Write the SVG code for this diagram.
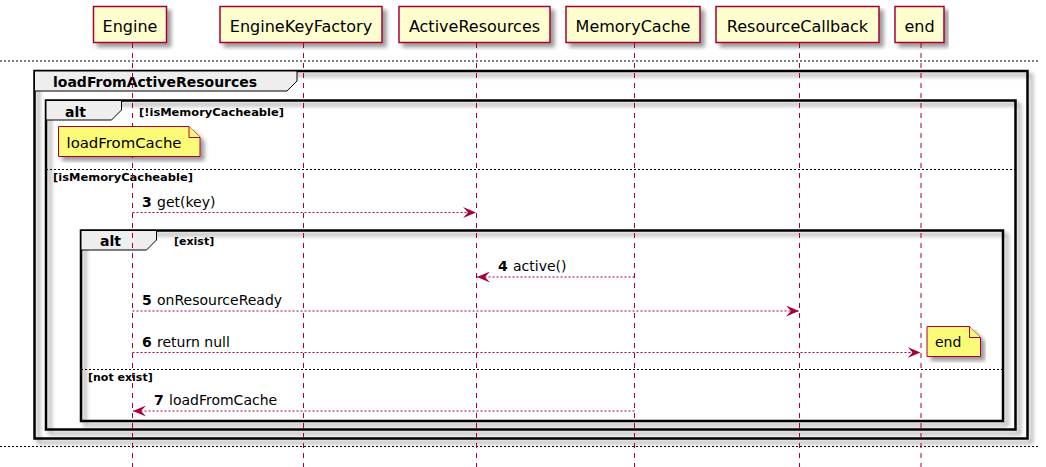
<svg xmlns="http://www.w3.org/2000/svg" width="1046" height="467" viewBox="0 0 1046 467">
<defs>
<filter id="sh" x="-5%" y="-5%" width="115%" height="125%">
<feGaussianBlur in="SourceGraphic" stdDeviation="2" result="b"/>
<feColorMatrix in="b" type="matrix" values="0 0 0 0 0 0 0 0 0 0 0 0 0 0 0 0 0 0 .4 0" result="b2"/>
<feOffset in="b2" dx="4" dy="4" result="b3"/>
<feBlend in="SourceGraphic" in2="b3" mode="normal"/>
</filter>
<marker id="ah" viewBox="0 0 13 11" refX="13" refY="5.5" markerWidth="13" markerHeight="11" markerUnits="userSpaceOnUse" orient="auto">
<polygon points="0,0 13,5.5 0,11 5,5.5" fill="#A80036"/>
</marker>
</defs>
<style>
text{font-family:"DejaVu Sans",sans-serif;fill:#000}
.pt{font-size:16px;text-anchor:middle}
.msg{font-size:14px}
.num{font-size:14px;font-weight:bold}
.tab{font-size:14px;font-weight:bold}
.grd{font-size:11px;font-weight:bold}
.note{font-size:14px}
.box{fill:#FEFECE;stroke:#A80036;stroke-width:1.5}
.life{stroke:#A80036;stroke-width:1;stroke-dasharray:5,5;fill:none}
.frame{fill:none;stroke:#000;stroke-width:2.5}
.tabbg{fill:#EEEEEE;stroke:#000;stroke-width:1}
.sep{stroke:#000;stroke-width:1;stroke-dasharray:2,2;fill:none}
.arr{stroke:#A80036;stroke-width:1;stroke-dasharray:2,2;fill:none;marker-end:url(#ah)}
.nt{fill:#FBFB77;stroke:#A80036;stroke-width:1}
</style>
<rect width="1046" height="467" fill="#fff"/>

<g id="separators">
<line class="sep" x1="0" y1="61" x2="1040" y2="61"/>
<line class="sep" x1="0" y1="446.5" x2="1040" y2="446.5"/>
</g>

<g id="group-loadFromActiveResources">
<rect class="frame" x="34.5" y="71" width="993" height="367.5" filter="url(#sh)"/>
<polygon class="tabbg" points="34.5,71 297,71 297,81 287,91 34.5,91"/>
<text class="tab" x="53" y="87">loadFromActiveResources</text>
</g>

<g id="group-alt1">
<rect class="frame" x="46" y="100.5" width="969.5" height="329" filter="url(#sh)"/>
<polygon class="tabbg" points="46,100.5 121.5,100.5 121.5,110 111.5,120 46,120"/>
<text class="tab" x="65" y="116.5">alt</text>
<text class="grd" x="139" y="116" textLength="145" lengthAdjust="spacingAndGlyphs">[!isMemoryCacheable]</text>
<line class="sep" x1="46" y1="169.5" x2="1015.5" y2="169.5"/>
<text class="grd" x="53" y="181" textLength="140" lengthAdjust="spacingAndGlyphs">[isMemoryCacheable]</text>
</g>

<g id="group-alt2">
<rect class="frame" x="81" y="230.5" width="922" height="190.5" filter="url(#sh)"/>
<polygon class="tabbg" points="81,230.5 156.5,230.5 156.5,240 146.5,250 81,250"/>
<text class="tab" x="100" y="246">alt</text>
<text class="grd" x="174" y="245">[exist]</text>
<line class="sep" x1="81" y1="369.5" x2="1003" y2="369.5"/>
<text class="grd" x="88" y="381">[not exist]</text>
</g>

<g id="Engine">
<rect class="box" x="93.5" y="6.5" width="73" height="36" filter="url(#sh)"/>
<text class="pt" x="130" y="31.5">Engine</text>
<line class="life" x1="132.5" y1="43" x2="132.5" y2="467"/>
</g>
<g id="EngineKeyFactory">
<rect class="box" x="220" y="6.5" width="162" height="36" filter="url(#sh)"/>
<text class="pt" x="301" y="31.5">EngineKeyFactory</text>
<line class="life" x1="303.5" y1="43" x2="303.5" y2="467"/>
</g>
<g id="ActiveResources">
<rect class="box" x="399" y="6.5" width="151" height="36" filter="url(#sh)"/>
<text class="pt" x="474.5" y="31.5">ActiveResources</text>
<line class="life" x1="476.5" y1="43" x2="476.5" y2="467"/>
</g>
<g id="MemoryCache">
<rect class="box" x="566" y="6.5" width="134" height="36" filter="url(#sh)"/>
<text class="pt" x="633" y="31.5">MemoryCache</text>
<line class="life" x1="634.5" y1="43" x2="634.5" y2="467"/>
</g>
<g id="ResourceCallback">
<rect class="box" x="716" y="6.5" width="163" height="36" filter="url(#sh)"/>
<text class="pt" x="797.5" y="31.5">ResourceCallback</text>
<line class="life" x1="799.5" y1="43" x2="799.5" y2="467"/>
</g>
<g id="end">
<rect class="box" x="895" y="6.5" width="49" height="36" filter="url(#sh)"/>
<text class="pt" x="919.5" y="31.5">end</text>
<line class="life" x1="921" y1="43" x2="921" y2="467"/>
</g>

<g id="connectors">
<line class="arr" x1="132.5" y1="212.5" x2="476" y2="212.5"/>
<text class="num" x="142" y="206.5">3</text><text class="msg" x="157" y="206.5">get(key)</text>
<line class="arr" x1="634.5" y1="277" x2="477" y2="277"/>
<text class="num" x="498" y="271">4</text><text class="msg" x="513" y="271">active()</text>
<line class="arr" x1="132.5" y1="311" x2="799" y2="311"/>
<text class="num" x="142" y="305">5</text><text class="msg" x="157" y="305">onResourceReady</text>
<line class="arr" x1="132.5" y1="352.5" x2="920.5" y2="352.5"/>
<text class="num" x="142" y="346.5">6</text><text class="msg" x="157" y="346.5">return null</text>
<line class="arr" x1="634.5" y1="411" x2="133" y2="411"/>
<text class="num" x="154" y="405">7</text><text class="msg" x="169" y="405">loadFromCache</text>
</g>

<g id="note-loadFromCache">
<path class="nt" d="M58.5,126.5 L189,126.5 L200,137.5 L200,156.5 L58.5,156.5 Z" filter="url(#sh)"/>
<path class="nt" d="M189,126.5 L189,137.5 L200,137.5"/>
<text class="note" x="66.5" y="148" textLength="115" lengthAdjust="spacingAndGlyphs">loadFromCache</text>
</g>
<g id="note-end">
<path class="nt" d="M927,326.5 L969.5,326.5 L980.5,337.5 L980.5,356.5 L927,356.5 Z" filter="url(#sh)"/>
<path class="nt" d="M969.5,326.5 L969.5,337.5 L980.5,337.5"/>
<text class="note" x="935" y="347">end</text>
</g>
</svg>
